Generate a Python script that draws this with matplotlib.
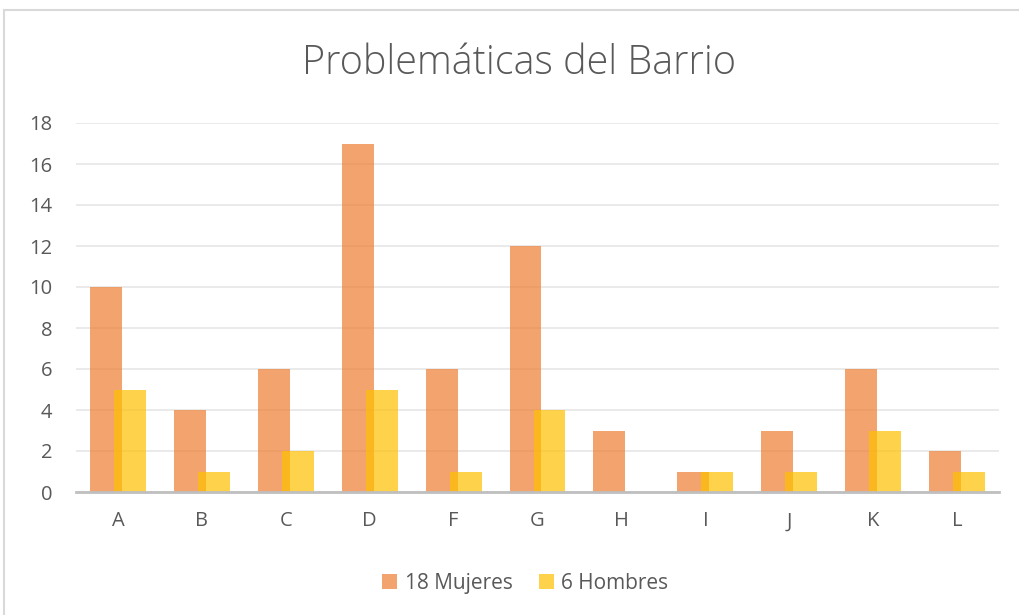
import matplotlib.pyplot as plt
import matplotlib.patches as mpatches
import numpy as np

categories = ["A", "B", "C", "D", "F", "G", "H", "I", "J", "K", "L"]
mujeres = [10, 4, 6, 17, 6, 12, 3, 1, 3, 6, 2]
hombres = [5, 1, 2, 5, 1, 4, 0, 1, 1, 3, 1]
yticks = [0, 2, 4, 6, 8, 10, 12, 14, 16, 18]

plt.rcParams['font.family'] = ['Open Sans', 'DejaVu Sans']
grey = "#595959"

fig = plt.figure(figsize=(10.2, 6.15), dpi=100)
# chart frame (cut off at the right and bottom like the screenshot)
fig.patches.append(mpatches.Rectangle((4 / 1020, -0.1), 1.2, 1 - 10 / 615 + 0.1,
                                      transform=fig.transFigure, fill=False,
                                      edgecolor="#D9D9D9", linewidth=1.5))

ax = fig.add_axes([76 / 1020, 123 / 615, 923 / 1020, 369 / 615])
x = np.arange(len(categories))
w = 0.38
ax.bar(x - 0.143, mujeres, w, color="#ED7D31", alpha=0.7, zorder=3,
       label="18 Mujeres")
ax.bar(x + 0.143, hombres, w, color="#FFC000", alpha=0.7, zorder=3,
       label="6 Hombres")

ax.set_xlim(-0.5, len(categories) - 0.5)
ax.set_ylim(0, 18)
ax.set_xticks(x)
ax.set_xticklabels(categories)
ax.set_yticks(yticks)
ax.tick_params(axis="both", length=0, colors=grey, labelsize=14.5)
ax.tick_params(axis="x", pad=14)
ax.tick_params(axis="y", pad=17)
ax.grid(axis="y", color="#E6E6E6", linewidth=1.2, zorder=0)
for s in ["top", "right", "left"]:
    ax.spines[s].set_visible(False)
ax.spines["bottom"].set_color("#BFBFBF")
ax.spines["bottom"].set_linewidth(2)
ax.spines["bottom"].set_zorder(4)

fig.text(0.509, 0.897, "Problemáticas del Barrio", ha="center", va="center",
         fontsize=28.5, color=grey, fontweight="light")

fig.legend(loc="center", bbox_to_anchor=(0.515, 0.052), ncol=2, frameon=False,
           fontsize=15, labelcolor=grey, handlelength=0.72, handleheight=0.72,
           columnspacing=1.25, handletextpad=0.35)

fig.savefig("out.png", dpi=100, facecolor="white")
